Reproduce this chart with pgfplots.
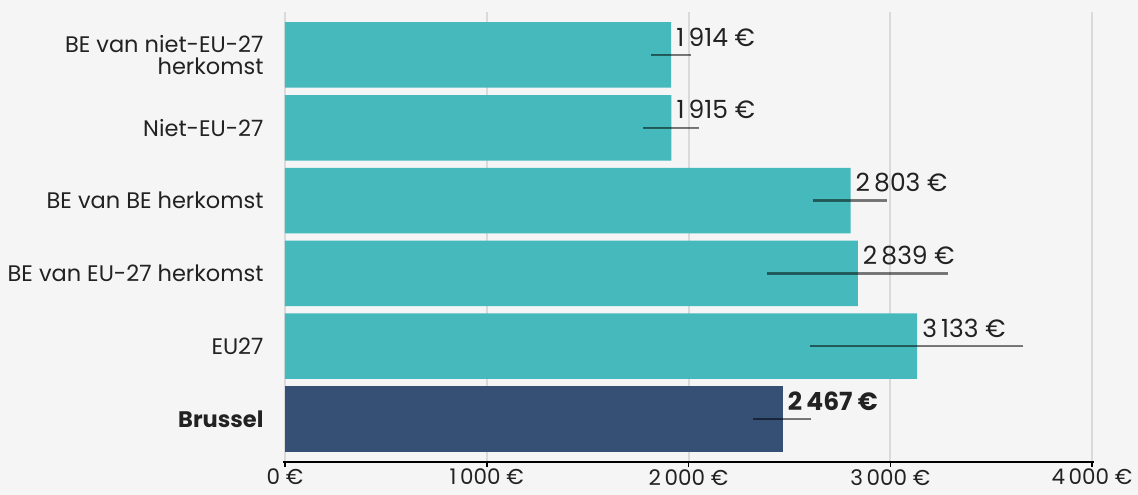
\documentclass[border=0pt]{standalone}
\usepackage{pgfplots}
\pgfplotsset{compat=1.18}
\usepackage{pgfplotstable}
\usepackage{fontspec}
\setmainfont{Poppins}
\definecolor{bg}{HTML}{F5F5F5}
\definecolor{tealbar}{HTML}{45B9BB}
\definecolor{navybar}{HTML}{365075}
\definecolor{gridc}{HTML}{DADADA}
\definecolor{txt}{HTML}{222222}
\pgfplotstableread{
y x em ep
1 3133 531 525
2 2839 450 447
3 2803 186 181
4 1915 141 137
5 1914 100 98
}\tealdata
\pgfplotstableread{
y x em ep
0 2467 147 140
}\bxldata
\begin{document}
\begin{tikzpicture}[x=1pt,y=1pt]
\fill[bg] (0,0) rectangle (1138,495);
\begin{axis}[
  at={(285pt,33pt)}, anchor=south west,
  scale only axis, width=807pt, height=450pt,
  xmin=0, xmax=4000, ymin=-0.59, ymax=5.59,
  xbar, bar width=0.9, bar shift=0pt,
  axis x line*=bottom, axis y line*=left,
  y axis line style={draw=none},
  x axis line style={black, line width=2pt, -, shorten <=-2pt, shorten >=-2pt},
  xtick={0,1000,2000,3000,4000},
  xmajorgrids, major grid style={gridc, line width=2pt},
  xtick style={black, line width=1.5pt}, tick align=outside, major tick length=5pt,
  ytick={0,...,5}, ytick style={draw=none},
  yticklabels={{\textbf{Brussel}}, EU27, BE van EU-27 herkomst, BE van BE herkomst, Niet-EU-27, {BE van niet-EU-27\\herkomst}},
  yticklabel style={align=right, anchor=east, xshift=-13pt, text=txt, font=\fontsize{22.5}{21.6}\selectfont},
  /pgf/number format/1000 sep={\,},
  /pgf/number format/assume math mode=true,
  xticklabel={\pgfmathprintnumber{\tick}~€},
  xticklabel style={text=txt, font=\fontsize{21.5}{22}\selectfont, inner sep=1pt, yshift=-1pt},
  every node near coord/.append style={anchor=west, yshift=18pt, xshift=3pt, inner sep=2pt, text=txt, font=\fontsize{25}{26}\selectfont},
]
\addplot[fill=tealbar, draw=none,
  nodes near coords={\pgfmathprintnumber{\pgfplotspointmeta}~€},
  error bars/.cd, x dir=both, x explicit,
  error bar style={line width=2.5pt, black, opacity=0.5}, error mark=none]
  table[x=x, y=y, x error minus=em, x error plus=ep] {\tealdata};
\addplot[fill=navybar, draw=none,
  nodes near coords={\textbf{\pgfmathprintnumber{\pgfplotspointmeta}~€}},
  error bars/.cd, x dir=both, x explicit,
  error bar style={line width=2.5pt, black, opacity=0.5}, error mark=none]
  table[x=x, y=y, x error minus=em, x error plus=ep] {\bxldata};
\end{axis}
\end{tikzpicture}
\end{document}
